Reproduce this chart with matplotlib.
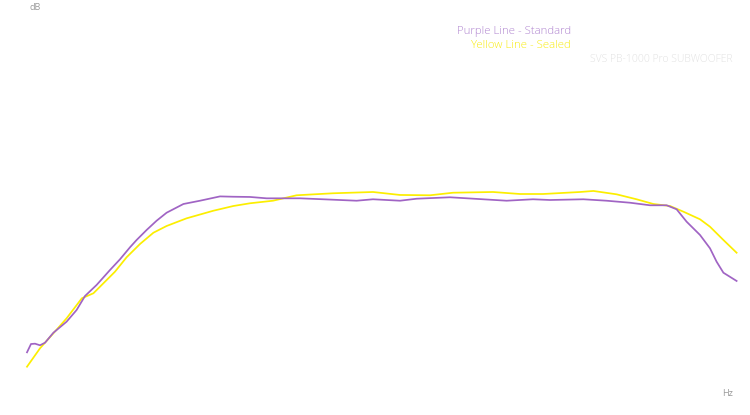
import matplotlib
matplotlib.use("Agg")
import matplotlib.pyplot as plt

# Standard (purple) response: frequency (Hz) and level (dB)
std_hz = [10.0, 11.0, 12.0, 13.25, 14.5, 16.6, 19.9, 22.4, 24.5, 27.4, 30.75, 33.25,
          35.75, 37.4, 39.9, 42.4, 44.9, 49.1, 53.25, 58.25, 61.5, 65.75, 69.9, 78.25,
          84.0, 92.4, 96.5, 103.25, 107.4, 115.75, 124.0, 129.9, 136.5, 140.75, 149.1,
          154.9, 160.75, 165.75, 169.9, 172.4, 174.9, 178.25, 180.75, 182.4, 184.1, 187.4]
std_db = [70.96, 72.0, 72.04, 71.84, 72.16, 73.41, 74.79, 76.25, 78.0, 79.38, 81.25, 82.59,
          84.09, 85.0, 86.25, 87.41, 88.41, 89.5, 89.91, 90.45, 90.41, 90.38, 90.21, 90.21,
          90.09, 89.91, 90.09, 89.91, 90.16, 90.34, 90.09, 89.91, 90.09, 90.0, 90.09,
          89.91, 89.66, 89.34, 89.34, 88.84, 87.29, 85.63, 83.96, 82.29, 80.91, 79.88]

# Sealed (yellow) response
sealed_hz = [10.0, 13.25, 16.6, 19.9, 23.7, 26.6, 29.1, 32.0, 34.9, 38.25, 41.6, 44.9,
             49.9, 56.6, 61.6, 65.75, 71.5, 77.4, 86.5, 96.5, 103.25, 110.75, 116.5,
             126.5, 133.25, 139.0, 148.25, 151.6, 157.4, 162.4, 166.6, 170.75, 174.1,
             178.25, 180.75, 184.1, 187.4]
sealed_db = [69.16, 71.46, 73.34, 75.21, 77.71, 78.34, 79.59, 81.04, 82.84, 84.5, 85.91, 86.75,
             87.71, 88.66, 89.25, 89.59, 89.91, 90.59, 90.84, 91.0, 90.63, 90.59, 90.91,
             91.0, 90.75, 90.75, 91.0, 91.13, 90.71, 90.09, 89.5, 89.25, 88.54,
             87.59, 86.66, 85.0, 83.41]

legend_labels = ["Purple Line - Standard", "Yellow Line - Sealed"]
title_text = "SVS PB-1000 Pro SUBWOOFER"
y_label = "dB"
x_label = "Hz"

purple = "#a064c4"
yellow = "#fcee00"

fig = plt.figure(figsize=(7.5, 4.15), dpi=100)
ax = fig.add_axes([0, 0, 1, 1])
ax.set_xlim(3.25, 190.75)
ax.set_ylim(63.125, 115.0)
ax.axis("off")

ax.plot(sealed_hz, sealed_db, color=yellow, lw=1.25, solid_joinstyle="round")
ax.plot(std_hz, std_db, color=purple, lw=1.25, solid_joinstyle="round")

font = ["Open Sans", "DejaVu Sans"]
fig.text(571 / 750, 1 - 31.5 / 415, legend_labels[0], ha="right", va="center",
         fontsize=8.2, color="#b085d0", family=font, fontweight="light")
fig.text(571 / 750, 1 - 45.5 / 415, legend_labels[1], ha="right", va="center",
         fontsize=8.2, color="#f8ec10", family=font, fontweight="light")
fig.text(733 / 750, 1 - 60 / 415, title_text, ha="right", va="center",
         fontsize=7.5, color="#e2e2e2", family=font, fontweight="light")
fig.text(35 / 750, 1 - 7 / 415, y_label, ha="center", va="center",
         fontsize=6.5, color="#999999", family=font)
fig.text(733 / 750, 1 - 393 / 415, x_label, ha="right", va="center",
         fontsize=6.5, color="#999999", family=font)

fig.savefig("out.png", dpi=100)
